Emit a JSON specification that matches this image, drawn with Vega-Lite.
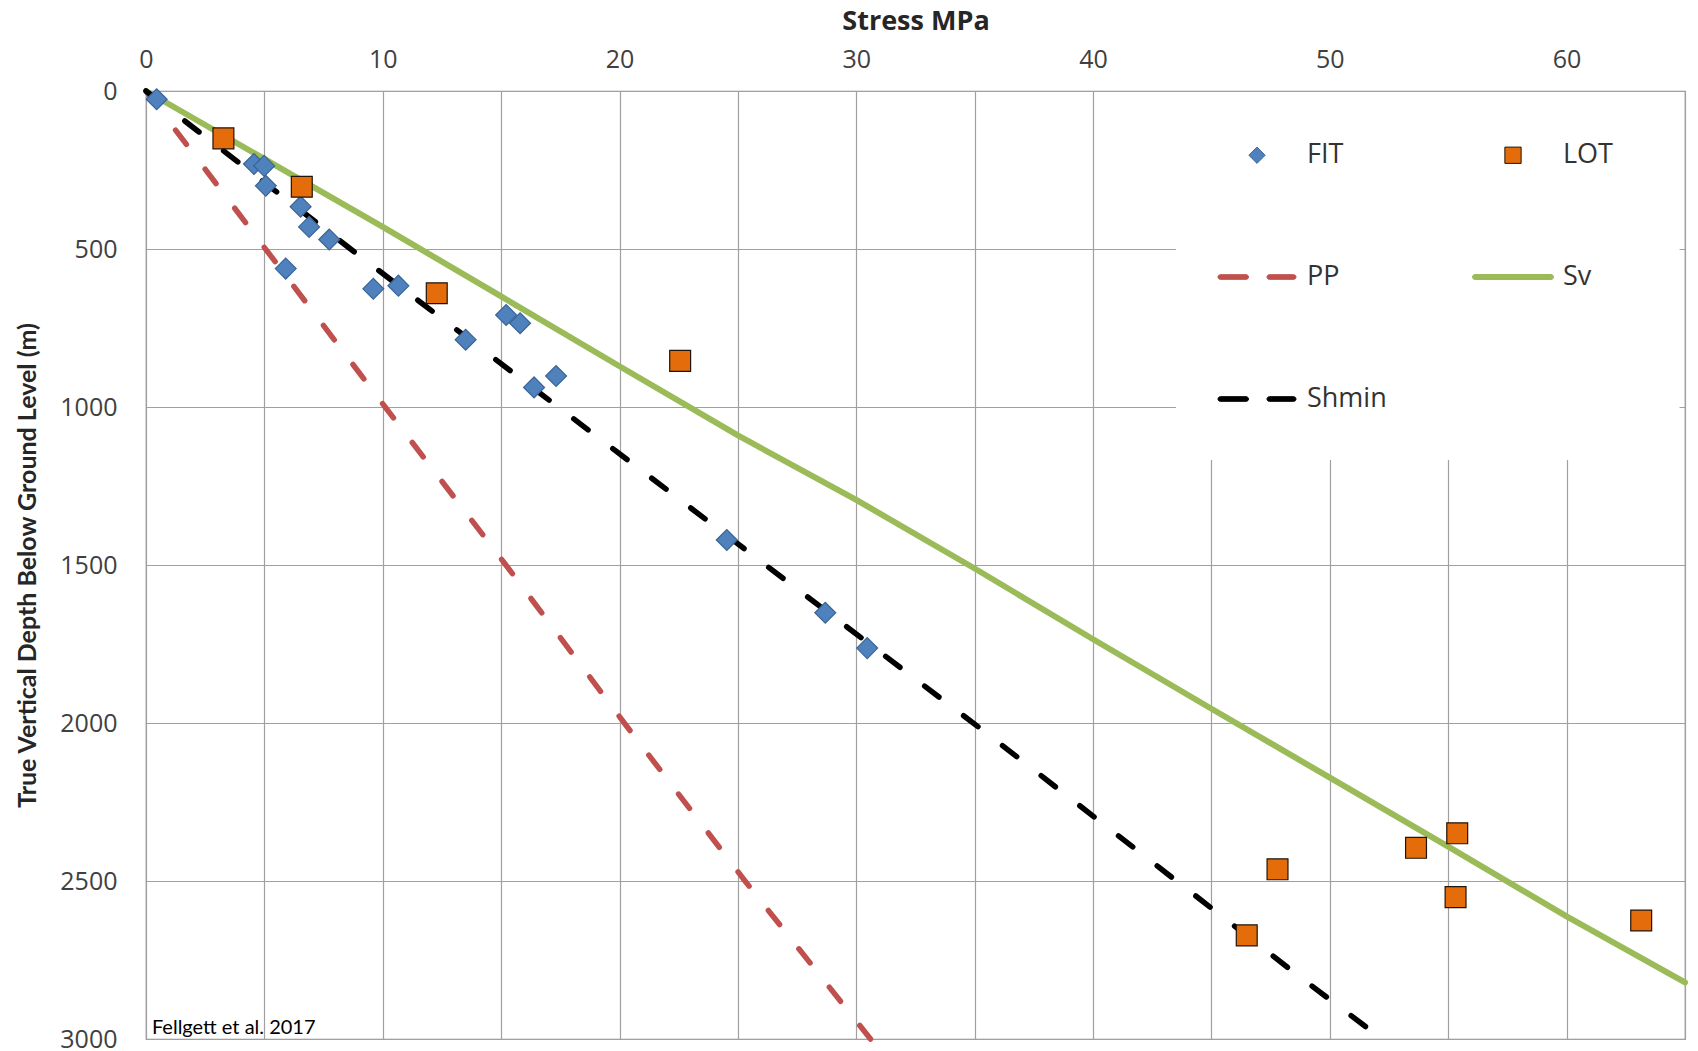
{
  "$schema": "https://vega.github.io/schema/vega-lite/v6.json",
  "width": 1539,
  "height": 948,
  "autosize": {"type": "none"},
  "padding": {"left": 146, "top": 91, "right": 13, "bottom": 12},
  "background": "white",
  "config": {
    "view": {"stroke": "#8c8c8c", "strokeWidth": 1.2},
    "axis": {
      "domain": false,
      "ticks": false,
      "tickSize": 0,
      "grid": true,
      "gridColor": "#a0a0a0",
      "gridWidth": 1.2,
      "labelFont": "Open Sans",
      "labelFontSize": 25,
      "labelColor": "#404040",
      "labelFlush": false,
      "labelOverlap": false,
      "titleColor": "#262626",
      "titleFontWeight": "bold"
    },
    "legend": {
      "orient": "none",
      "legendX": 1097.5,
      "legendY": 50.5,
      "direction": "horizontal",
      "columns": 2,
      "columnPadding": 83,
      "rowPadding": 94,
      "padding": 0,
      "symbolSize": 200,
      "symbolStrokeWidth": 1,
      "labelOffset": 36.5,
      "labelFont": "Open Sans",
      "labelFontSize": 27,
      "labelColor": "#333333",
      "labelLimit": 300
    }
  },
  "datasets": {
    "profiles": [
      {"series": "PP", "stress": 0, "depth": 0},
      {"series": "PP", "stress": 10.1, "depth": 1000},
      {"series": "PP", "stress": 15.2, "depth": 1500},
      {"series": "PP", "stress": 20.2, "depth": 2000},
      {"series": "PP", "stress": 25.3, "depth": 2500},
      {"series": "PP", "stress": 30.6, "depth": 3000},
      {"series": "Sv", "stress": 0, "depth": 0},
      {"series": "Sv", "stress": 10, "depth": 430},
      {"series": "Sv", "stress": 15, "depth": 650},
      {"series": "Sv", "stress": 20, "depth": 871},
      {"series": "Sv", "stress": 25, "depth": 1090},
      {"series": "Sv", "stress": 30, "depth": 1294},
      {"series": "Sv", "stress": 35, "depth": 1511},
      {"series": "Sv", "stress": 40, "depth": 1735},
      {"series": "Sv", "stress": 45, "depth": 1955},
      {"series": "Sv", "stress": 50, "depth": 2173},
      {"series": "Sv", "stress": 55, "depth": 2391},
      {"series": "Sv", "stress": 60, "depth": 2612},
      {"series": "Sv", "stress": 65, "depth": 2821},
      {"series": "Shmin", "stress": 0, "depth": 0},
      {"series": "Shmin", "stress": 8.97, "depth": 519},
      {"series": "Shmin", "stress": 22.21, "depth": 1274},
      {"series": "Shmin", "stress": 35.46, "depth": 2030},
      {"series": "Shmin", "stress": 48.57, "depth": 2794},
      {"series": "Shmin", "stress": 52.2, "depth": 3000}
    ],
    "tests": [
      {"series": "FIT", "stress": 0.45, "depth": 26},
      {"series": "FIT", "stress": 4.56, "depth": 231},
      {"series": "FIT", "stress": 4.99, "depth": 237},
      {"series": "FIT", "stress": 5.06, "depth": 300},
      {"series": "FIT", "stress": 6.53, "depth": 366},
      {"series": "FIT", "stress": 6.89, "depth": 430},
      {"series": "FIT", "stress": 7.74, "depth": 470},
      {"series": "FIT", "stress": 5.9, "depth": 562},
      {"series": "FIT", "stress": 9.6, "depth": 626},
      {"series": "FIT", "stress": 10.66, "depth": 616},
      {"series": "FIT", "stress": 13.5, "depth": 787},
      {"series": "FIT", "stress": 15.21, "depth": 709},
      {"series": "FIT", "stress": 15.8, "depth": 735},
      {"series": "FIT", "stress": 17.32, "depth": 902},
      {"series": "FIT", "stress": 16.39, "depth": 938},
      {"series": "FIT", "stress": 24.53, "depth": 1421},
      {"series": "FIT", "stress": 28.69, "depth": 1651},
      {"series": "FIT", "stress": 30.46, "depth": 1763},
      {"series": "LOT", "stress": 3.27, "depth": 150},
      {"series": "LOT", "stress": 6.58, "depth": 303},
      {"series": "LOT", "stress": 12.28, "depth": 640},
      {"series": "LOT", "stress": 22.56, "depth": 854},
      {"series": "LOT", "stress": 47.79, "depth": 2463},
      {"series": "LOT", "stress": 46.49, "depth": 2672},
      {"series": "LOT", "stress": 53.64, "depth": 2395},
      {"series": "LOT", "stress": 55.38, "depth": 2349},
      {"series": "LOT", "stress": 55.31, "depth": 2551},
      {"series": "LOT", "stress": 63.15, "depth": 2625}
    ],
    "notes": [
      {"note": "Fellgett et al. 2017"}
    ]
  },
  "layer": [
    {
      "data": {"values": [{}]},
      "mark": {"type": "rect", "fill": "white", "strokeWidth": 0},
      "encoding": {
        "x": {"datum": 43.5, "type": "quantitative"},
        "x2": {"datum": 64.77},
        "y": {"datum": 3, "type": "quantitative"},
        "y2": {"datum": 1168}
      }
    },
    {
      "encoding": {
        "x": {
          "field": "stress",
          "type": "quantitative",
          "scale": {"domain": [0, 65], "nice": false, "zero": false},
          "axis": {
            "orient": "top",
            "values": [0, 5, 10, 15, 20, 25, 30, 35, 40, 45, 50, 55, 60, 65],
            "labelExpr": "datum.value % 10 === 0 ? datum.label : ''",
            "labelPadding": 19,
            "title": "Stress MPa",
            "titleFont": "Open Sans",
            "titleFontSize": 27,
            "titleX": 769.5,
            "titleY": -70,
            "titleAlign": "center",
            "titleBaseline": "middle"
          }
        },
        "y": {
          "field": "depth",
          "type": "quantitative",
          "scale": {"domain": [0, 3000], "reverse": true, "nice": false},
          "axis": {
            "values": [0, 500, 1000, 1500, 2000, 2500, 3000],
            "format": "d",
            "labelPadding": 29,
            "title": "True Vertical Depth Below Ground Level (m)",
            "titleFont": "Lato",
            "titleFontSize": 25,
            "titleAngle": 270,
            "titleX": -119,
            "titleY": 474,
            "titleAlign": "center",
            "titleBaseline": "middle"
          }
        }
      },
      "layer": [
        {
          "data": {"name": "profiles"},
          "transform": [{"filter": "datum.series === 'PP'"}],
          "mark": {"type": "line", "color": "#c0504d", "strokeWidth": 5.5, "strokeDash": [18, 31], "strokeCap": "round"},
          "encoding": {"order": {"field": "depth", "type": "quantitative"}}
        },
        {
          "data": {"name": "profiles"},
          "transform": [{"filter": "datum.series === 'Sv'"}],
          "mark": {"type": "line", "color": "#9bbb59", "strokeWidth": 6, "strokeCap": "round", "strokeJoin": "round"},
          "encoding": {"order": {"field": "depth", "type": "quantitative"}}
        },
        {
          "data": {"name": "profiles"},
          "transform": [{"filter": "datum.series === 'Shmin'"}],
          "mark": {"type": "line", "color": "#000000", "strokeWidth": 5.5, "strokeDash": [18, 31], "strokeCap": "round"},
          "encoding": {"order": {"field": "depth", "type": "quantitative"}}
        },
        {
          "data": {"name": "tests"},
          "mark": {"type": "point", "filled": true, "opacity": 1, "size": 330, "strokeWidth": 1.2},
          "encoding": {
            "color": {
              "field": "series",
              "type": "nominal",
              "scale": {
                "domain": ["FIT", "LOT", "PP", "Sv", "Shmin"],
                "range": ["#4f81bd", "#e46c0a", "#c0504d", "#9bbb59", "#000000"]
              },
              "legend": {"title": null}
            },
            "shape": {
              "field": "series",
              "type": "nominal",
              "scale": {
                "domain": ["FIT", "LOT", "PP", "Sv", "Shmin"],
                "range": [
                  "M-1.15,0L0,-1.15L1.15,0L0,1.15Z",
                  "M-1.15,-1.15L1.15,-1.15L1.15,1.15L-1.15,1.15Z",
                  "M-5.188,-0.328L-1.527,-0.328A0.328,0.328 0 0 1 -1.527,0.328L-5.188,0.328A0.328,0.328 0 0 1 -5.188,-0.328ZM1.742,-0.328L5.188,-0.328A0.328,0.328 0 0 1 5.188,0.328L1.742,0.328A0.328,0.328 0 0 1 1.742,-0.328Z",
                  "M-5.374,-0.351L5.374,-0.351A0.351,0.351 0 0 1 5.374,0.351L-5.374,0.351A0.351,0.351 0 0 1 -5.374,-0.351Z",
                  "M-5.188,-0.328L-1.527,-0.328A0.328,0.328 0 0 1 -1.527,0.328L-5.188,0.328A0.328,0.328 0 0 1 -5.188,-0.328ZM1.742,-0.328L5.188,-0.328A0.328,0.328 0 0 1 5.188,0.328L1.742,0.328A0.328,0.328 0 0 1 1.742,-0.328Z"
                ]
              },
              "legend": {"title": null}
            },
            "stroke": {
              "field": "series",
              "type": "nominal",
              "scale": {
                "domain": ["FIT", "LOT", "PP", "Sv", "Shmin"],
                "range": ["#3b6496", "#1f140a", "#c0504d", "#9bbb59", "#000000"]
              },
              "legend": {"title": null}
            }
          }
        }
      ]
    },
    {
      "data": {"name": "notes"},
      "mark": {"type": "text", "align": "left", "baseline": "alphabetic", "font": "Lato", "fontSize": 20, "color": "#000000"},
      "encoding": {
        "text": {"field": "note", "type": "nominal"},
        "x": {"datum": 0.25, "type": "quantitative"},
        "y": {"datum": 2985, "type": "quantitative"}
      }
    }
  ]
}
